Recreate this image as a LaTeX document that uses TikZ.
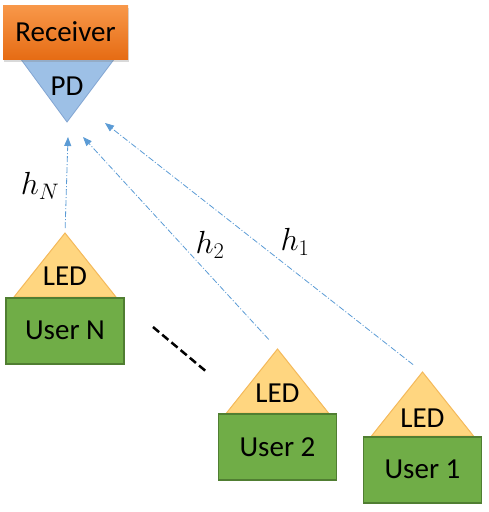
\documentclass[tikz,border=0pt]{standalone}
\usepackage{fix-cm}
\usepackage{fontspec}
\setmainfont{Carlito}
\usetikzlibrary{arrows.meta,shadows}
\definecolor{recvtop}{RGB}{248,152,74}
\definecolor{recvbot}{RGB}{230,108,20}
\definecolor{pdblue}{RGB}{157,192,230}
\definecolor{pdline}{RGB}{130,165,210}
\definecolor{ledyellow}{RGB}{255,214,128}
\definecolor{ledline}{RGB}{244,185,90}
\definecolor{usergreen}{RGB}{112,173,71}
\definecolor{userline}{RGB}{80,126,50}
\definecolor{chanblue}{RGB}{91,155,213}

\tikzset{
  bigtext/.style={font=\fontsize{29}{33}\selectfont},
  recvbox/.style={rectangle, top color=recvtop, bottom color=recvbot, minimum width=125pt, minimum height=54pt, inner sep=0pt, bigtext, drop shadow={shadow xshift=1pt, shadow yshift=-3pt, opacity=0.3}},
  userbox/.style={rectangle, draw=userline, line width=1.5pt, fill=usergreen, minimum width=118pt, minimum height=66pt, inner sep=0pt, bigtext},
  ledtri/.style={fill=ledyellow, draw=ledline, line width=1pt},
  pdtri/.style={fill=pdblue, draw=pdline, line width=0.8pt},
  chan/.style={chanblue, line width=0.8pt, dash pattern=on 6pt off 2pt on 1pt off 2pt, -{Triangle[length=9pt,width=7pt]}},
  chanlabel/.style={font=\fontsize{32}{36}\selectfont, inner sep=0pt}
}

\begin{document}
\begin{tikzpicture}[x=1pt,y=-1pt]
        \useasboundingbox (0,0) rectangle (488,512);
        \draw[pdtri] (20,58) -- (115,58) -- (67,122) -- cycle;
        \node[recvbox] (recv) at (65.5,32) {Receiver};
        \node[bigtext] (pd) at (67,86) {PD};
        \coordinate (baseN) at (65,297);
        \coordinate (base2) at (277.5,413);
        \coordinate (base1) at (422.5,436);
        \coordinate (topN) at ([yshift=64pt]baseN);
        \coordinate (top2) at ([yshift=64pt]base2);
        \coordinate (top1) at ([yshift=64pt]base1);
        \draw[ledtri] ([xshift=-51pt]baseN) -- (topN) -- ([xshift=51pt]baseN) -- cycle;
        \draw[ledtri] ([xshift=-51pt]base2) -- (top2) -- ([xshift=51pt]base2) -- cycle;
        \draw[ledtri] ([xshift=-51pt]base1) -- (top1) -- ([xshift=51pt]base1) -- cycle;
        \node[bigtext] (ledN) at ([yshift=21pt]baseN) {LED};
        \node[bigtext] (led2) at ([yshift=20pt]base2) {LED};
        \node[bigtext] (led1) at ([yshift=18pt]base1) {LED};
        \node[userbox, anchor=north] (userN) at (baseN) {User N};
        \node[userbox, anchor=north] (user2) at (base2) {User 2};
        \node[userbox, anchor=north] (user1) at (base1) {User 1};
        \coordinate (tipN) at (68,137);
        \coordinate (tip2) at (83,137);
        \coordinate (tip1) at (105,123);
        \draw[chan, shorten <=5pt] (topN) -- (tipN);
        \draw[chan, shorten <=13pt] (top2) -- (tip2);
        \draw[chan, shorten <=12pt] (top1) -- (tip1);
        \node[chanlabel] (hN) at (40,186) {$h_N$};
        \node[chanlabel] (h2) at (210,245) {$h_2$};
        \node[chanlabel] (h1) at (295,242) {$h_1$};
        \draw[black, line width=2.5pt, dash pattern=on 8pt off 4pt] (153,327) -- (208,373);
\end{tikzpicture}
\end{document}
